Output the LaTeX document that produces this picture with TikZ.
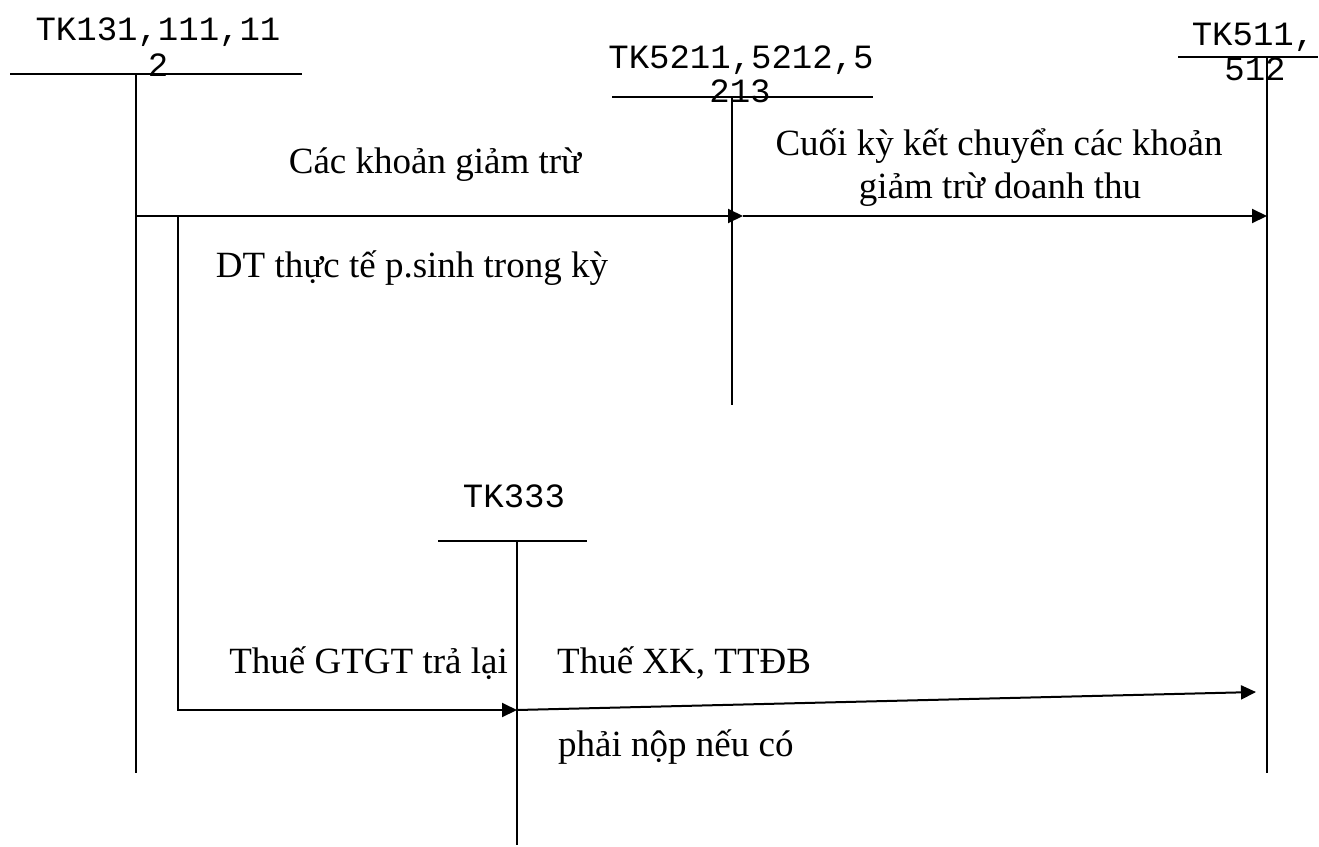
\documentclass[tikz,border=0pt]{standalone}
\usepackage{fontspec}
\setmainfont{Liberation Serif}
\setmonofont{Liberation Mono}
\usetikzlibrary{arrows.meta}
\begin{document}
\begin{tikzpicture}[x=1pt,y=-1pt,
  line/.style={line width=2pt},
  arr/.style={line width=2pt,-{Triangle[length=15pt,width=14pt]}},
  lbl/.style={inner sep=0pt,anchor=base,font=\fontsize{37}{40}\selectfont},
  acc/.style={inner sep=0pt,anchor=base,font=\fontsize{34}{36}\ttfamily}]
\useasboundingbox (0,0) rectangle (1319,846);
% account headers
\node[acc] (a1t) at (158,40) {TK131,111,11};
\node[acc] (a1b) at (158,76) {2};
\node[acc] (a2t) at (741,68) {TK5211,5212,5};
\node[acc] (a2b) at (740,102) {213};
\node[acc] (a3t) at (1253,45) {TK511,};
\node[acc] (a3b) at (1255,80) {512};
\node[acc] (a4t) at (514,507) {TK333};
% T-account lines
\coordinate (h1l) at (10,74); \coordinate (h1r) at (302,74);
\coordinate (v1t) at (136,74); \coordinate (v1b) at (136,773);
\coordinate (h2l) at (612,97); \coordinate (h2r) at (873,97);
\coordinate (v2t) at (732,97); \coordinate (v2b) at (732,405);
\coordinate (h3l) at (1178,57); \coordinate (h3r) at (1318,57);
\coordinate (v3t) at (1267,57); \coordinate (v3b) at (1267,773);
\coordinate (h4l) at (438,541); \coordinate (h4r) at (587,541);
\coordinate (v4t) at (517,541); \coordinate (v4b) at (517,845);
\draw[line] (h1l) -- (h1r); \draw[line] (v1t) -- (v1b);
\draw[line] (h2l) -- (h2r); \draw[line] (v2t) -- (v2b);
\draw[line] (h3l) -- (h3r); \draw[line] (v3t) -- (v3b);
\draw[line] (h4l) -- (h4r); \draw[line] (v4t) -- (v4b);
% arrows
\coordinate (p1) at (136,216); \coordinate (p2) at (743,216);
\coordinate (p3) at (1267,216);
\draw[arr] (p1) -- (p2);
\draw[arr] (p2) -- (p3);
\coordinate (q1) at (178,216); \coordinate (q2) at (178,710);
\coordinate (q3) at (517,710); \coordinate (q4) at (1256,692);
\draw[arr] (q1) -- (q2) -- (q3);
\draw[arr] (q3) -- (q4);
% labels
\node[lbl] (l1) at (435,173) {Các khoản giảm trừ};
\node[lbl] (l2) at (412,277) {DT thực tế p.sinh trong kỳ};
\node[lbl] (l3) at (999,155) {Cuối kỳ kết chuyển các khoản};
\node[lbl] (l4) at (1000,198) {giảm trừ doanh thu};
\node[lbl,anchor=base east] (l5) at (508,673) {Thuế GTGT trả lại};
\node[lbl,anchor=base west] (l6) at (557,673) {Thuế XK, TTĐB};
\node[lbl,anchor=base west] (l7) at (558,756) {phải nộp nếu có};
\end{tikzpicture}
\end{document}
